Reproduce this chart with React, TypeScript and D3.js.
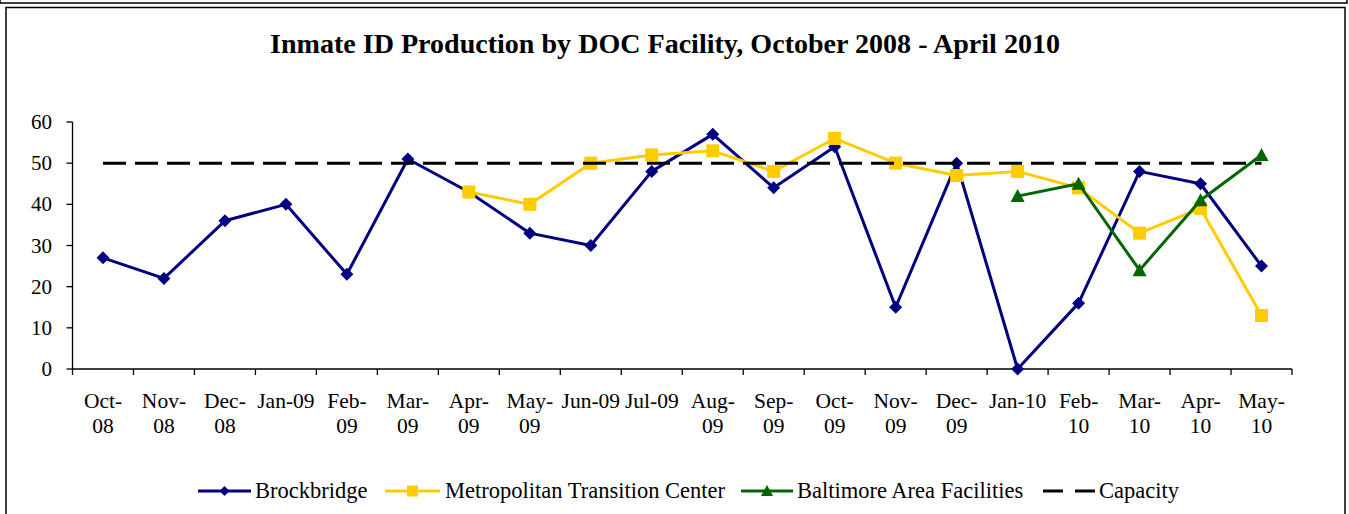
import React from 'react';
import * as d3 from 'd3';

const months = ['Oct-08','Nov-08','Dec-08','Jan-09','Feb-09','Mar-09','Apr-09','May-09','Jun-09','Jul-09','Aug-09','Sep-09','Oct-09','Nov-09','Dec-09','Jan-10','Feb-10','Mar-10','Apr-10','May-10'];
// how excel wrapped the axis labels
const monthLines = [['Oct-','08'],['Nov-','08'],['Dec-','08'],['Jan-09'],['Feb-','09'],['Mar-','09'],['Apr-','09'],['May-','09'],['Jun-09'],['Jul-09'],['Aug-','09'],['Sep-','09'],['Oct-','09'],['Nov-','09'],['Dec-','09'],['Jan-10'],['Feb-','10'],['Mar-','10'],['Apr-','10'],['May-','10']];

const brockbridge = [27,22,36,40,23,51,43,33,30,48,57,44,54,15,50,0,16,48,45,25];
const metropolitan = [null,null,null,null,null,null,43,40,50,52,53,48,56,50,47,48,44,33,39,13];
const baltimore = [null,null,null,null,null,null,null,null,null,null,null,null,null,null,null,42,45,24,41,52];
const capacity = [50,50,50,50,50,50,50,50,50,50,50,50,50,50,50,50,50,50,50,50];
const yTicks = [0,10,20,30,40,50,60];

const title = 'Inmate ID Production by DOC Facility, October 2008 - April 2010';

const W = 1349, H = 514;
const left = 72.5, right = 1292, top = 122, bottom = 369;
const FONT = '"Liberation Serif", "Times New Roman", serif';

const NAVY = '#000080', GOLD = '#FFCC00', GREEN = '#006600';

function marker(kind: string, x: number, y: number, s: number, color: string, key?: any) {
  if (kind === 'diamond') {
    return <path key={key} d={`M${x},${y - s}L${x + s},${y}L${x},${y + s}L${x - s},${y}Z`} fill={color} />;
  }
  if (kind === 'square') {
    return <rect key={key} x={x - s} y={y - s} width={2 * s} height={2 * s} fill={color} />;
  }
  return <path key={key} d={`M${x},${y - s}L${x + s},${y + s * 0.85}L${x - s},${y + s * 0.85}Z`} fill={color} />;
}

export default function App() {
  const x = d3.scaleBand().domain(months).range([left, right]).paddingInner(0).paddingOuter(0);
  const y = d3.scaleLinear().domain([0, 60]).range([bottom, top]);
  const cx = (i: number) => (x(months[i]) as number) + x.bandwidth() / 2;

  const line = d3.line<number | null>()
    .defined(d => d !== null)
    .x((d, i) => cx(i))
    .y(d => y(d as number));

  const series = [
    { name: 'Brockbridge', data: brockbridge, color: NAVY, kind: 'diamond', size: 6.5 },
    { name: 'Metropolitan Transition Center', data: metropolitan, color: GOLD, kind: 'square', size: 6.5 },
    { name: 'Baltimore Area Facilities', data: baltimore, color: GREEN, kind: 'triangle', size: 7 },
  ];

  const legend = [
    { x1: 198, x2: 251, tx: 255, ...series[0], ls: 5 },
    { x1: 385, x2: 440, tx: 445, ...series[1], ls: 5.5 },
    { x1: 741, x2: 793, tx: 797, ...series[2], ls: 6 },
  ];
  const ly = 491;

  return (
    <svg width={W} height={H} style={{ position: 'absolute', left: 0, top: 0, background: '#fff' }} fontFamily={FONT}>
      <rect x={0} y={-10} width={W - 2} height={13} fill="none" stroke="#000" strokeWidth={1.5} />
      <rect x={6} y={7.5} width={1339} height={520} fill="none" stroke="#000" strokeWidth={1.5} />

      <text x={270} y={53} fontSize={27} fontWeight="bold" textLength={790} lengthAdjust="spacingAndGlyphs">{title}</text>

      {/* axes */}
      <line x1={left} x2={left} y1={top} y2={bottom} stroke="#000" strokeWidth={1.3} />
      <line x1={left} x2={right} y1={bottom} y2={bottom} stroke="#000" strokeWidth={1.3} />
      {yTicks.map(t => (
        <g key={t}>
          <line x1={left - 6} x2={left} y1={y(t)} y2={y(t)} stroke="#000" strokeWidth={1.3} />
          <text x={52} y={y(t) + 7} textAnchor="end" fontSize={21}>{t}</text>
        </g>
      ))}
      {months.map((m, i) => (
        <line key={m} x1={x(m) as number} x2={x(m) as number} y1={bottom} y2={bottom + 6} stroke="#000" strokeWidth={1.3} />
      ))}
      <line x1={right} x2={right} y1={bottom} y2={bottom + 6} stroke="#000" strokeWidth={1.3} />
      {monthLines.map((ls, i) => (
        <text key={i} x={cx(i)} y={408} textAnchor="middle" fontSize={21.5}>
          {ls.map((s, j) => <tspan key={j} x={cx(i)} dy={j === 0 ? 0 : 24.5}>{s}</tspan>)}
        </text>
      ))}

      {/* series */}
      {series.map(s => (
        <g key={s.name}>
          <path d={line(s.data) || ''} fill="none" stroke={s.color} strokeWidth={3} strokeLinejoin="round" />
          {s.data.map((v, i) => v === null ? null : marker(s.kind, cx(i), y(v), s.size, s.color, i))}
        </g>
      ))}
      <path d={line(capacity) || ''} fill="none" stroke="#000" strokeWidth={3} strokeDasharray="23,9" />

      {/* legend */}
      {legend.map(l => (
        <g key={l.name}>
          <line x1={l.x1} x2={l.x2} y1={ly} y2={ly} stroke={l.color} strokeWidth={3} />
          {marker(l.kind, (l.x1 + l.x2) / 2, ly, l.ls, l.color)}
          <text x={l.tx} y={ly + 7} fontSize={22.5}>{l.name}</text>
        </g>
      ))}
      <line x1={1043} x2={1096} y1={ly} y2={ly} stroke="#000" strokeWidth={3} strokeDasharray="20,12" />
      <text x={1099} y={ly + 7} fontSize={22.5}>Capacity</text>
    </svg>
  );
}
